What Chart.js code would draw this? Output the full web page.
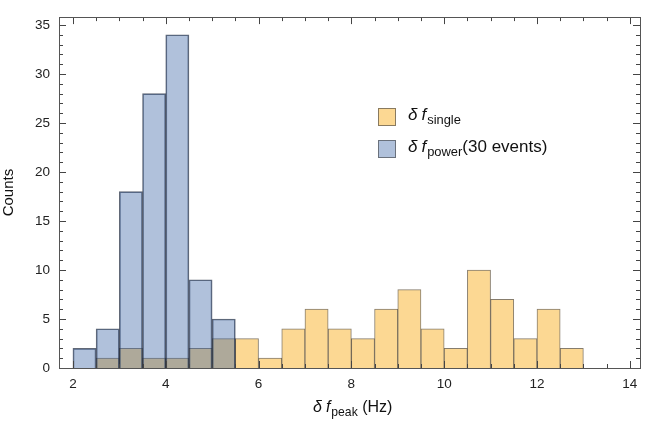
<!DOCTYPE html>
<html>
<head>
<meta charset="utf-8">
<script src="https://cdn.jsdelivr.net/npm/chart.js@4"></script>
<style>
body{margin:0;background:#fff;font-family:"Liberation Sans",Arial,sans-serif;}
#wrap{position:relative;width:647px;height:422px;}
.lab{position:absolute;color:#111;white-space:nowrap;}
.lab i{font-style:italic;}
.lab .d{margin-right:4px;}
.lab sub{font-size:76%;vertical-align:-0.3em;margin-left:1px;}
.box{position:absolute;width:16px;height:16px;border:1px solid rgba(60,60,60,0.6);}
</style>
</head>
<body>
<div id="wrap">
<canvas id="grafico" width="647" height="422"></canvas>
<div class="box" style="left:378px;top:108px;background:#fcd893;"></div>
<div class="lab" style="left:408px;top:105px;font-size:17px;"><i class="d">δ</i><i>f</i><sub>single</sub></div>
<div class="box" style="left:378px;top:140px;background:rgb(176,193,219);"></div>
<div class="lab" style="left:408px;top:137px;font-size:17px;"><i class="d">δ</i><i>f</i><sub>power</sub>(30 events)</div>
<div class="lab" style="left:313px;top:398px;font-size:16px;"><i class="d">δ</i><i>f</i><sub>peak</sub> (Hz)</div>
</div>
<script>
// centros dos bins (largura 0.5)
const centrosPower = [2.25, 2.75, 3.25, 3.75, 4.25, 4.75, 5.25];
const contagemPower = [2, 4, 18, 28, 34, 9, 5];

const centrosSingle = [2.75, 3.25, 3.75, 4.25, 4.75, 5.25, 5.75, 6.25, 6.75, 7.25, 7.75, 8.25, 8.75, 9.25, 9.75, 10.25, 10.75, 11.25, 11.75, 12.25, 12.75];
const contagemSingle = [1, 2, 1, 1, 2, 3, 3, 1, 4, 6, 4, 3, 6, 8, 4, 2, 10, 7, 3, 6, 2];

const ticksX = [2, 4, 6, 8, 10, 12, 14];
const ticksY = [0, 5, 10, 15, 20, 25, 30, 35];

function pontos(xs, ys){
  return xs.map((x, i) => ({x: x, y: ys[i]}));
}

/* ticks para dentro, nos quatro lados */
const ticksDentro = {
  id: "ticksDentro",
  afterDraw(chart){
    const ctx = chart.ctx;
    const a = chart.chartArea;
    const sx = chart.scales.x, sy = chart.scales.y;
    ctx.save();
    ctx.strokeStyle = "#444";
    ctx.lineWidth = 1;
    ctx.beginPath();
    for(let v = 2; v <= 14.001; v += 0.5){
      const px = Math.round(sx.getPixelForValue(v)) + 0.5;
      const len = (Math.abs(v % 2) < 0.001) ? 7 : 4;
      ctx.moveTo(px, a.bottom); ctx.lineTo(px, a.bottom - len);
      ctx.moveTo(px, a.top); ctx.lineTo(px, a.top + len);
    }
    for(let v = 0; v <= 35; v += 1){
      const py = Math.round(sy.getPixelForValue(v)) + 0.5;
      const len = (v % 5 === 0) ? 7 : 4;
      ctx.moveTo(a.left, py); ctx.lineTo(a.left + len, py);
      ctx.moveTo(a.right, py); ctx.lineTo(a.right - len, py);
    }
    ctx.stroke();
    ctx.strokeStyle = "#555";
    ctx.strokeRect(Math.round(a.left) + 0.5, Math.round(a.top) + 0.5, Math.round(a.right - a.left), Math.round(a.bottom - a.top));
    ctx.restore();
  }
};

const ctx = document.getElementById("grafico");

new Chart(ctx, {
  type: "bar",
  data: {
    datasets: [
      {
        label: "single",
        data: pontos(centrosSingle, contagemSingle),
        backgroundColor: "rgb(252,216,147)",
        borderColor: "rgba(70,55,30,0.65)",
        borderWidth: 1,
        order: 2
      },
      {
        label: "power",
        data: pontos(centrosPower, contagemPower),
        backgroundColor: "rgba(58,100,165,0.4)",
        borderColor: "rgba(30,40,60,0.7)",
        borderWidth: 1,
        order: 1
      }
    ]
  },
  options: {
    responsive: false,
    animation: false,
    grouped: false,
    barPercentage: 1,
    categoryPercentage: 1,
    layout: {padding: {left: 0, right: 7, top: 10, bottom: 0}},
    plugins: {
      legend: {display: false},
      tooltip: {enabled: false}
    },
    scales: {
      x: {
        type: "linear",
        offset: false,
        min: 1.7,
        max: 14.22,
        afterBuildTicks: s => { s.ticks = ticksX.map(v => ({value: v})); },
        afterFit: s => { s.height = 54; },
        grid: {display: false, drawTicks: false, offset: false},
        border: {display: false},
        ticks: {color: "#222", font: {family: "Liberation Sans", size: 13.5}, padding: 8, maxRotation: 0}
      },
      y: {
        min: 0,
        max: 35.8,
        afterBuildTicks: s => { s.ticks = ticksY.map(v => ({value: v})); },
        afterFit: s => { s.width = 59; },
        grid: {display: false, drawTicks: false},
        border: {display: false},
        ticks: {color: "#222", font: {family: "Liberation Sans", size: 13.5}, padding: 9},
        title: {display: true, text: "Counts", color: "#111", font: {family: "Liberation Sans", size: 15}, padding: {top: 0, bottom: 3}}
      }
    }
  },
  plugins: [ticksDentro]
});
</script>
</body>
</html>
